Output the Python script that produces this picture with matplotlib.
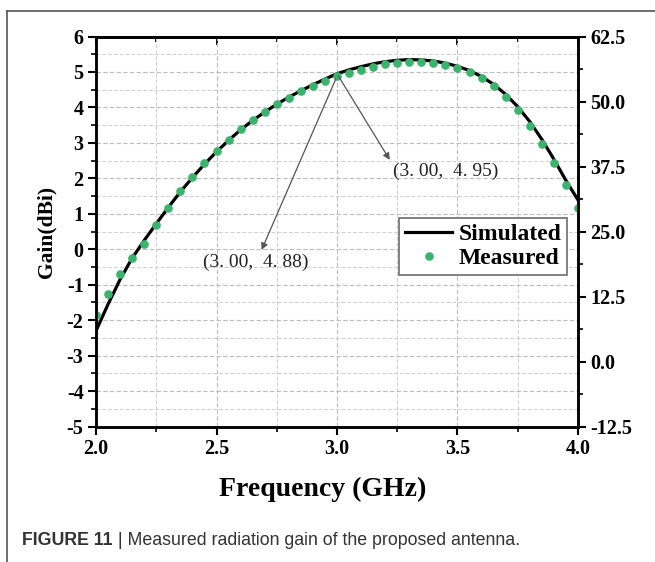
import matplotlib
matplotlib.use("Agg")
import matplotlib.pyplot as plt
import numpy as np
from matplotlib.lines import Line2D
from matplotlib.ticker import MultipleLocator, FormatStrFormatter

# measured gain, every 0.05 GHz from 2.00 to 4.00
freq_meas = [2.00, 2.05, 2.10, 2.15, 2.20, 2.25, 2.30, 2.35, 2.40, 2.45,
             2.50, 2.55, 2.60, 2.65, 2.70, 2.75, 2.80, 2.85, 2.90, 2.95,
             3.00, 3.05, 3.10, 3.15, 3.20, 3.25, 3.30, 3.35, 3.40, 3.45,
             3.50, 3.55, 3.60, 3.65, 3.70, 3.75, 3.80, 3.85, 3.90, 3.95, 4.00]
gain_meas = [-1.86, -1.26, -0.70, -0.24, 0.14, 0.67, 1.17, 1.64, 2.05, 2.42,
             2.78, 3.09, 3.38, 3.64, 3.86, 4.09, 4.28, 4.45, 4.60, 4.74,
             4.88, 4.98, 5.07, 5.15, 5.22, 5.25, 5.28, 5.27, 5.24, 5.20,
             5.11, 5.01, 4.83, 4.61, 4.30, 3.93, 3.48, 2.96, 2.42, 1.81, 1.15]

# simulated gain
freq_sim = [2.00, 2.05, 2.10, 2.15, 2.20, 2.25, 2.30, 2.35, 2.40, 2.45,
            2.50, 2.55, 2.60, 2.65, 2.70, 2.75, 2.80, 2.85, 2.90, 2.95,
            3.00, 3.05, 3.10, 3.15, 3.20, 3.25, 3.30, 3.35, 3.40, 3.45,
            3.50, 3.55, 3.60, 3.65, 3.70, 3.75, 3.80, 3.85, 3.90, 3.95, 4.00]
gain_sim = [-2.30, -1.55, -0.85, -0.25, 0.25, 0.72, 1.18, 1.62, 2.02, 2.40,
            2.75, 3.07, 3.37, 3.63, 3.87, 4.09, 4.29, 4.47, 4.64, 4.80,
            4.95, 5.06, 5.15, 5.23, 5.29, 5.33, 5.35, 5.34, 5.31, 5.25,
            5.16, 5.04, 4.87, 4.65, 4.37, 4.02, 3.60, 3.10, 2.54, 1.94, 1.39]

# annotated points
meas_pt = (3.00, 4.88)
sim_pt = (3.00, 4.95)

GREEN = "#3BB36C"
SERIF = "Liberation Serif"

plt.rcParams["font.family"] = SERIF
plt.rcParams["font.weight"] = "bold"
plt.rcParams["axes.unicode_minus"] = False

fig = plt.figure(figsize=(6.55, 5.62), dpi=100)
ax = fig.add_axes([0.1466, 0.2411, 0.7358, 0.6939])

ax.plot(freq_sim, gain_sim, color="black", lw=2.3, label="Simulated", zorder=3)
ax.plot(freq_meas, gain_meas, ls="none", marker="o", ms=5.2, color=GREEN,
        label="Measured", zorder=4)

ax.set_xlim(2.0, 4.0)
ax.set_ylim(-5, 6)
ax.xaxis.set_major_locator(MultipleLocator(0.5))
ax.xaxis.set_minor_locator(MultipleLocator(0.25))
ax.yaxis.set_major_locator(MultipleLocator(1))
ax.yaxis.set_minor_locator(MultipleLocator(0.5))
ax.xaxis.set_major_formatter(FormatStrFormatter("%.1f"))

ax.grid(True, which="major", color="#bdbdbd", lw=0.8, ls=(0, (4, 2)))
ax.grid(True, which="minor", color="#cfcfcf", lw=0.7, ls=(0, (4, 2)))
ax.set_axisbelow(True)

ax.tick_params(which="major", direction="out", length=6, width=1.5,
               labelsize=14.5, pad=3)
ax.tick_params(which="minor", direction="out", length=3.5, width=1.2)
for sp in ax.spines.values():
    sp.set_linewidth(1.8)

top = ax.secondary_xaxis("top")
top.xaxis.set_major_locator(MultipleLocator(0.5))
top.xaxis.set_minor_locator(MultipleLocator(0.25))
top.tick_params(which="both", direction="in", labeltop=False, width=1.3)
top.tick_params(which="major", length=6)
top.tick_params(which="minor", length=3.5)
top.spines["top"].set_linewidth(1.8)

ax2 = ax.twinx()
ax2.set_ylim(-12.5, 62.5)
ax2.yaxis.set_major_locator(MultipleLocator(12.5))
ax2.yaxis.set_minor_locator(MultipleLocator(6.25))
ax2.yaxis.set_major_formatter(FormatStrFormatter("%.1f"))
ax2.tick_params(which="major", direction="out", length=6, width=1.5,
                labelsize=14.5, pad=3)
ax2.tick_params(which="minor", direction="out", length=3.5, width=1.2)
for sp in ax2.spines.values():
    sp.set_linewidth(1.8)

ax.set_xlabel("Frequency (GHz)", fontsize=20, fontweight="bold")
ax.xaxis.set_label_coords(0.471, -0.128)
ax.set_ylabel("Gain(dBi)", fontsize=15.5, fontweight="bold")
ax.yaxis.set_label_coords(-0.083, 0.5)

arrow = dict(arrowstyle="-|>", color="#555555", lw=0.9, mutation_scale=10,
             shrinkA=2, shrinkB=0)
ax.annotate("", xy=(2.687, -0.02), xytext=meas_pt, arrowprops=arrow, zorder=5)
ax.annotate("", xy=(3.219, 2.52), xytext=sim_pt, arrowprops=arrow, zorder=5)
ax.text(2.444, -0.38, f"({meas_pt[0]:.2f},  {meas_pt[1]:.2f})".replace(".", ". "),
        fontsize=14, fontweight="normal", color="#222222", va="center", ha="left")
ax.text(3.231, 2.19, f"({sim_pt[0]:.2f},  {sim_pt[1]:.2f})".replace(".", ". "),
        fontsize=14, fontweight="normal", color="#222222", va="center", ha="left")

leg = ax.legend(loc="upper left", bbox_to_anchor=(0.629, 0.535),
                prop={"weight": "bold", "size": 17}, frameon=True,
                fancybox=False, edgecolor="#777777", framealpha=1,
                handlelength=2.0, handletextpad=0.25, borderpad=0.25,
                labelspacing=0.1, borderaxespad=0)
leg.get_frame().set_linewidth(1.3)

# outer frame of the page figure
fig.add_artist(Line2D([7 / 655, 1], [1 - 11 / 562] * 2, transform=fig.transFigure,
                      color="#555555", lw=1.2))
fig.add_artist(Line2D([7 / 655] * 2, [0, 1 - 11 / 562], transform=fig.transFigure,
                      color="#555555", lw=1.2))

t1 = fig.text(0.0336, 0.039, "FIGURE 11", family="Liberation Sans",
              fontweight="bold", fontsize=12.8, color="#333333", va="center")
ax.annotate(" | Measured radiation gain of the proposed antenna.",
            xy=(1, 0.5), xycoords=t1, va="center", ha="left",
            family="Liberation Sans", fontweight="normal", fontsize=12.8,
            color="#333333", annotation_clip=False)

fig.savefig("out.png", dpi=100)
